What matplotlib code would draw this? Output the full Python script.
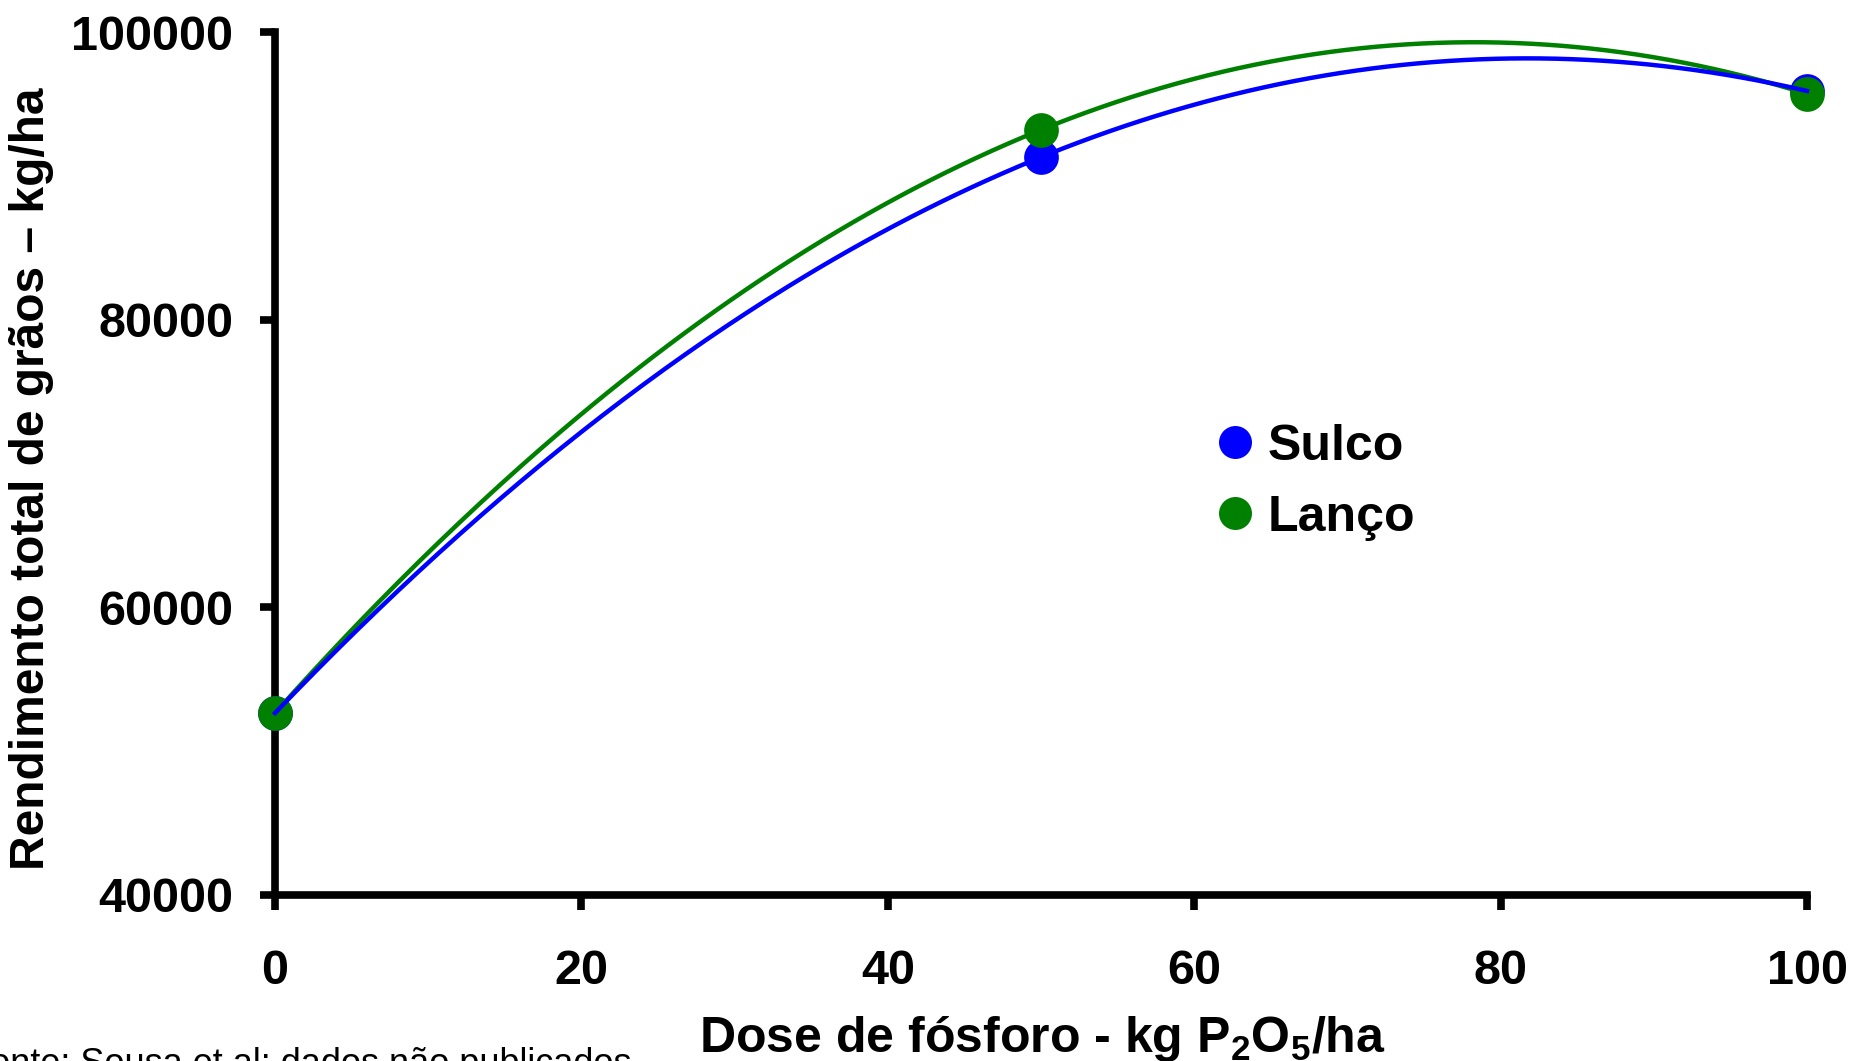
import numpy as np
import matplotlib
matplotlib.use("Agg")
import matplotlib.pyplot as plt

# doses (kg P2O5/ha) and grain yield
doses = [0, 50, 100]
sulco = [52650, 91300, 95900]
lanco = [52650, 93200, 95700]

BLUE = "#0000ff"
GREEN = "#008000"

plt.rcParams["font.family"] = ["Liberation Sans", "DejaVu Sans"]
plt.rcParams["font.weight"] = "bold"
plt.rcParams["mathtext.fontset"] = "custom"
plt.rcParams["mathtext.rm"] = "Liberation Sans:bold"
plt.rcParams["mathtext.it"] = "Liberation Sans:bold"
plt.rcParams["mathtext.bf"] = "Liberation Sans:bold"
plt.rcParams["mathtext.default"] = "rm"

W, H = 1854, 1061
fig = plt.figure(figsize=(W / 100, H / 100), dpi=100)
ax = fig.add_axes([275 / W, (H - 895) / H, (1807 - 275) / W, (895 - 32) / H])

# quadratic trendlines through the points
xs = np.linspace(0, 100, 300)
fit_s = np.polyval(np.polyfit(doses, sulco, 2), xs)
fit_l = np.polyval(np.polyfit(doses, lanco, 2), xs)

ax.plot(doses, sulco, "o", color=BLUE, ms=25, mec="none", label="Sulco",
        clip_on=False, zorder=3)
ax.plot(doses, lanco, "o", color=GREEN, ms=25, mec="none", label="Lanço",
        clip_on=False, zorder=3.1)
ax.plot(xs, fit_l, "-", color=GREEN, lw=3.2, clip_on=False, zorder=4)
ax.plot(xs, fit_s, "-", color=BLUE, lw=3.2, clip_on=False, zorder=4.1)

ax.set_xlim(0, 100)
ax.set_ylim(40000, 100000)
ax.set_xticks([0, 20, 40, 60, 80, 100])
ax.set_yticks([40000, 60000, 80000, 100000])
for s in ("top", "right"):
    ax.spines[s].set_visible(False)
for s in ("left", "bottom"):
    ax.spines[s].set_linewidth(5.5)
ax.tick_params(axis="both", direction="out", length=11, width=5.5,
               labelsize=35)
ax.tick_params(axis="y", pad=19)
ax.tick_params(axis="x", pad=28)

leg = ax.legend(loc="center left", bbox_to_anchor=(0.615, 0.478), frameon=False,
                fontsize=36, handlelength=0.7, handletextpad=0.3,
                labelspacing=0.5, borderpad=0, borderaxespad=0, markerscale=0.95)

fig.text(1042 / W, (H - 1052) / H, "Dose de fósforo - kg P$_2$O$_5$/ha",
         ha="center", va="baseline", fontsize=36, fontweight="bold")
fig.text(32 / W, 1 - 479 / H, "Rendimento total de grãos – kg/ha",
         rotation=90, ha="center", va="center", fontsize=34.5, fontweight="bold")
fig.text(-32 / W, (H - 1074) / H, "Fonte: Sousa et al: dados não publicados",
         ha="left", va="baseline", fontsize=26, fontweight="normal")

fig.savefig("out.png", dpi=100)
